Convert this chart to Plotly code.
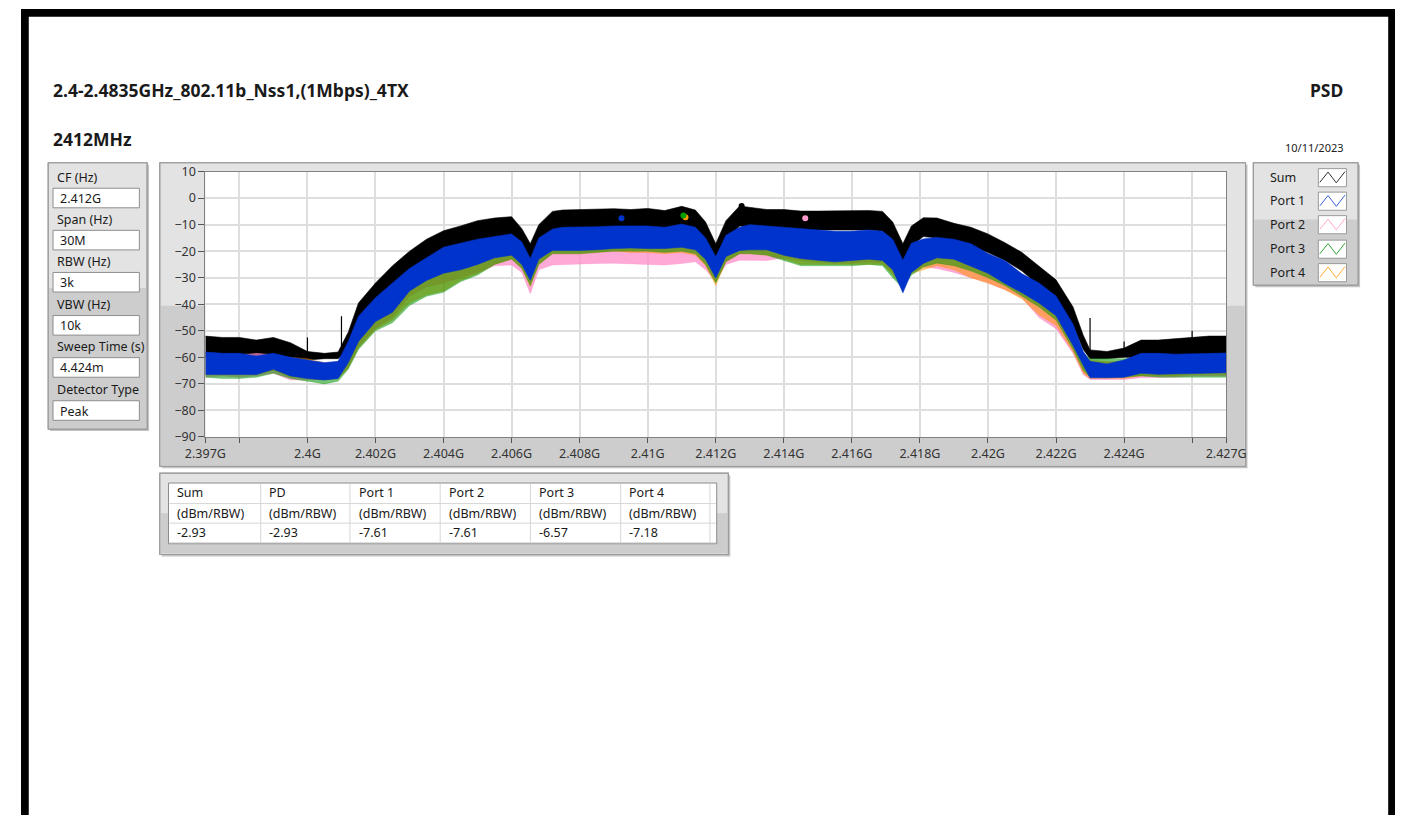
import plotly.graph_objects as go

W, H = 1416, 823

# ---------------- data ----------------
freq_mhz = [2397.0, 2397.5, 2398.0, 2398.5, 2399.0, 2399.5, 2400.0, 2400.5, 2400.9, 2401.2,
            2401.5, 2402.0, 2402.5, 2403.0, 2403.5, 2404.0, 2404.5, 2405.0, 2405.5, 2406.0,
            2406.3, 2406.55, 2406.8, 2407.2, 2407.5, 2408.0, 2408.5, 2409.0, 2409.5, 2410.0,
            2410.5, 2411.0, 2411.4, 2411.7, 2412.0, 2412.3, 2412.7, 2413.0, 2413.5, 2414.0,
            2414.5, 2415.0, 2415.5, 2416.0, 2416.5, 2416.9, 2417.2, 2417.5, 2417.75, 2418.1,
            2418.5, 2419.0, 2419.5, 2420.0, 2420.5, 2421.0, 2421.5, 2422.0, 2422.5, 2422.8,
            2423.0, 2423.5, 2424.0, 2424.5, 2425.0, 2425.5, 2426.0, 2426.5, 2427.0]

sum_max = [-52, -52.5, -52.5, -53.5, -52.5, -54.5, -57.8, -58.5, -58, -50.5,
           -39.5, -32, -25.5, -20, -15.5, -12.3, -10.5, -8.5, -7.5, -7,
           -11.5, -17.2, -10, -5, -4.5, -4.3, -4.2, -4, -4.3, -3.9,
           -4.7, -3.1, -4.5, -9, -17.2, -8.5, -3, -3.5, -4.3, -4.3,
           -4.9, -4.9, -4.9, -4.7, -4.7, -5, -9, -17.2, -10.5, -7.4,
           -7.5, -9.5, -11, -13.5, -16.8, -20.5, -25.5, -30.8, -41, -51.7,
           -57.2, -57.8, -56.5, -53.5, -53.5, -53, -52.5, -52, -52]
sum_min = [-60, -60, -60, -61, -60, -61, -61, -60.5, -60.5, -57,
           -46, -38, -33, -27, -23, -20, -18, -16, -15, -14,
           -19, -24, -17, -12, -12, -11.5, -11.5, -11, -11, -11,
           -11.5, -10.5, -11.5, -16, -24, -16, -10.5, -11, -11.5, -11.5,
           -12, -12, -12, -12, -12, -12.5, -16, -24, -18, -14.5,
           -15, -16.5, -18, -20.5, -23.5, -27.5, -33, -38, -48, -57,
           -60.5, -60.5, -60, -60, -60, -60, -59.5, -59.5, -59.5]

port1_max = [-58, -58.5, -58.5, -59.5, -58.5, -60, -61, -62, -61.5, -54,
             -44.5, -37.5, -32, -26.5, -22.5, -18.5, -17, -15.5, -14.5, -13.5,
             -16.5, -22.8, -15, -11.7, -11, -11, -10.8, -10.5, -10.5, -10.5,
             -11, -9.8, -11, -15, -22.1, -14, -11, -10, -10.5, -11,
             -11.5, -12, -12.5, -12.5, -12, -12.5, -15.5, -23.4, -17, -15.4,
             -14.8, -15.5, -17.2, -20.9, -23.6, -28.5, -32, -36.9, -47.5, -57.8,
             -61.5, -62.5, -61, -58.5, -58.5, -58.8, -58.6, -58.5, -58.4]
port1_min = [-66.5, -66.5, -66.5, -66.5, -64.5, -67, -68, -68.5, -68, -62,
             -54, -46.5, -43, -35, -31, -28.3, -27, -25, -22.5, -21.5,
             -25, -31, -23, -19.7, -19.7, -19.7, -19.5, -19, -18.8, -19,
             -19, -18.5, -19.5, -23, -30.1, -22, -19.7, -19.5, -19.5, -21.5,
             -22.8, -23.4, -24, -23.5, -23, -23.5, -27, -35.7, -28, -24.6,
             -22.5, -23, -25.8, -28.3, -32.2, -35.7, -39.5, -44.3, -55.5, -63,
             -67.7, -67.7, -67.5, -66, -66.4, -66.4, -66, -66, -65.8]

port2_max = [-59, -59.5, -59, -58.5, -59, -60.5, -61, -62, -62, -56,
             -46, -39, -33, -27.5, -24, -20, -18.5, -17, -16, -15,
             -18, -24, -16.5, -13, -12.5, -12.5, -12.5, -12, -12, -12,
             -12.5, -11.5, -12.5, -16.5, -23.5, -15.5, -12.5, -11.5, -12, -12.5,
             -13, -13.5, -14, -14, -13.5, -14, -17, -25, -18.5, -16,
             -16, -17, -18.5, -22, -25, -29.5, -33, -38, -48.5, -58.5,
             -61.5, -62, -61.5, -60, -60, -60, -60, -60, -60]
port2_min = [-67.5, -67, -67.5, -67, -66, -68.5, -68.5, -68.5, -68, -64,
             -56, -49, -45, -37, -33.5, -32, -30, -28, -25.5, -25.2,
             -28, -36, -27, -25.2, -25, -24.8, -24.6, -24.5, -24.8, -25,
             -25.2, -24.6, -24, -27, -31.4, -25, -23.4, -23.4, -23.5, -22.5,
             -23.5, -24, -24.5, -24.5, -24, -24.5, -28, -33, -28, -26,
             -26.5, -28, -30.1, -32, -34.5, -37.5, -45, -49.2, -58.5, -66.5,
             -68.3, -68.3, -68.3, -67.7, -67.7, -67.5, -67, -67, -67]

port3_max = [-59.5, -60, -60, -59.5, -59.5, -61, -62, -62.5, -62, -56.5,
             -46, -39.5, -33.5, -28, -25, -21, -19, -17.5, -16, -15,
             -18, -24, -16.5, -13, -12.5, -12.5, -12.5, -12, -12, -12,
             -12, -11, -12.5, -16.5, -23.5, -15.5, -12.5, -11.5, -12, -12.5,
             -13, -13.5, -14, -14, -13.5, -14, -17, -25, -18.5, -16,
             -16, -17, -18.5, -22, -25, -29.5, -33, -38, -48.5, -58.5,
             -60.5, -60.5, -60.5, -60, -60, -60, -60, -60, -60]
port3_min = [-67.5, -68, -68, -67.5, -66, -68, -69, -70, -69, -64.5,
             -57, -50, -47, -40.5, -37, -35.5, -31.5, -29, -25, -23,
             -26.5, -33, -25, -21, -21, -21, -20.5, -20, -20, -20,
             -20.5, -20, -21, -25, -32, -24, -21, -21, -21.5, -23.5,
             -25.5, -25.5, -25.5, -25.5, -25, -25.5, -30, -34, -29, -26,
             -24.5, -25.5, -27.5, -30, -33, -37, -41, -46, -57, -65,
             -67.5, -67.5, -67.5, -67, -67.5, -67.5, -67.5, -67.5, -67.5]

port4_max = [-58.5, -59, -59.5, -60, -60, -60, -60.5, -62, -62, -56,
             -45.5, -39, -33, -28, -24.5, -21, -19, -17, -16, -15,
             -18, -24, -16.5, -13, -12.5, -12.5, -12.5, -12, -12, -12,
             -12, -11.5, -12.5, -16.5, -23.5, -15.5, -12.5, -11.5, -12, -12.5,
             -13, -13.5, -14, -14, -13.5, -14, -17, -25, -18.5, -16,
             -16, -17, -18.5, -22, -25, -29.5, -33, -38, -48.5, -58.5,
             -61, -61.5, -61.5, -60, -60, -60, -60, -60, -60]
port4_min = [-66.5, -66.5, -66.5, -66.5, -65, -67.5, -68, -68.5, -68, -64,
             -56.5, -49.5, -46, -39.5, -36.5, -35, -31, -28.5, -25, -23,
             -26.5, -33.5, -25, -21, -21, -21, -20.5, -20, -20.5, -20.5,
             -21, -20.5, -21.5, -25.5, -33, -24, -21, -21, -21.5, -23,
             -25, -25, -25, -25, -25, -25, -29, -33.5, -28.5, -27,
             -25.5, -27, -30, -32, -34.5, -38, -44, -48, -58, -66,
             -68, -68, -68, -67, -67, -67, -66.5, -66.5, -66.5]

# isolated narrow spikes on the Sum trace (freq, base, tip)
sum_spike_freq = [2400.0, 2401.0, 2423.0, 2424.0, 2426.0]
sum_spike_base = [-58.0, -58.0, -57.5, -57.0, -53.0]
sum_spike_tip = [-52.5, -44.5, -45.2, -54.0, -50.0]

series_names = ["Sum", "Port 1", "Port 2", "Port 3", "Port 4"]
series_colors = ["#000000", "#0033cc", "#ff99cc", "#00a000", "#ff9900"]
band_fill = ["#000000", "#0033cc", "rgba(255,140,200,0.75)", "rgba(0,150,0,0.55)", "rgba(255,150,0,0.55)"]
legend_colors = ["#333333", "#3a5fd8", "#ffa6d2", "#33a833", "#ffaa33"]

peak_freq = [2412.76, 2409.23, 2414.63, 2411.05, 2411.11]
peak_value = [-2.93, -7.61, -7.61, -6.57, -7.18]

x_tick_vals = [2397, 2400, 2402, 2404, 2406, 2408, 2410, 2412, 2414, 2416, 2418, 2420, 2422, 2424, 2427]
x_tick_text = ["2.397G", "2.4G", "2.402G", "2.404G", "2.406G", "2.408G", "2.41G", "2.412G",
               "2.414G", "2.416G", "2.418G", "2.42G", "2.422G", "2.424G", "2.427G"]
y_tick_vals = [10, 0, -10, -20, -30, -40, -50, -60, -70, -80, -90]

param_labels = ["CF (Hz)", "Span (Hz)", "RBW (Hz)", "VBW (Hz)", "Sweep Time (s)", "Detector Type"]
param_values = ["2.412G", "30M", "3k", "10k", "4.424m", "Peak"]

table_headers = ["Sum", "PD", "Port 1", "Port 2", "Port 3", "Port 4"]
table_units = ["(dBm/RBW)"] * 6
table_values = [-2.93, -2.93, -7.61, -7.61, -6.57, -7.18]

title_text = "2.4-2.4835GHz_802.11b_Nss1,(1Mbps)_4TX"
subtitle_text = "2412MHz"
right_title = "PSD"
date_text = "10/11/2023"

# ---------------- helpers ----------------
FONT = "Noto Sans"


def px(x):
    return x / W


def py(y):
    return 1 - y / H


shapes = []
annotations = []


def rect(x0, y0, x1, y1, fill, line=None, lw=1):
    shapes.append(dict(type="rect", xref="paper", yref="paper",
                       x0=px(x0), x1=px(x1), y0=py(y1), y1=py(y0),
                       fillcolor=fill,
                       line=dict(color=line if line else "rgba(0,0,0,0)", width=lw if line else 0),
                       layer="below"))


def hline(x0, x1, y, color, lw=1):
    shapes.append(dict(type="line", xref="paper", yref="paper",
                       x0=px(x0), x1=px(x1), y0=py(y), y1=py(y),
                       line=dict(color=color, width=lw), layer="below"))


def vline(x, y0, y1, color, lw=1):
    shapes.append(dict(type="line", xref="paper", yref="paper",
                       x0=px(x), x1=px(x), y0=py(y0), y1=py(y1),
                       line=dict(color=color, width=lw), layer="below"))


def text(x, y, s, size=12.5, bold=False, anchor="left", color="#1a1a1a"):
    annotations.append(dict(xref="paper", yref="paper", x=px(x), y=py(y),
                            text=f"<b>{s}</b>" if bold else s, showarrow=False,
                            xanchor=anchor, yanchor="middle",
                            font=dict(family=FONT, size=size, color=color)))


def panel(x0, y0, x1, y1, split):
    rect(x0 + 2, y0 + 2, x1 + 2, y1 + 2, "#c4c4c4")
    rect(x0, y0, x1, y1, "#e3e3e3", "#9c9c9c", 1)
    rect(x0 + 1, split, x1 - 1, y1 - 1, "#cdcdcd")
    rect(x0, y0, x1, y1, "rgba(0,0,0,0)", "#9c9c9c", 1.2)


# ---------------- page ----------------
rect(0, 0, 8, H, "#000000")
rect(0, 0, W, 8, "#000000")
rect(1409, 0, W, H, "#000000")

text(31, 83, title_text, size=17.5, bold=True)
text(31, 133, subtitle_text, size=17.5, bold=True)
text(1364, 83, right_title, size=17.5, bold=True, anchor="right")
text(1365, 141, date_text, size=11, anchor="right", color="#222222")

# graph panel and plot area
panel(143, 157, 1262, 467, 303)
rect(190, 166, 1242, 437, "#ffffff")

# left parameter panel
panel(28, 157, 130, 429, 285)
label_y = [172, 215, 258, 302, 345, 389]
for i, (lab, val) in enumerate(zip(param_labels, param_values)):
    ly = label_y[i]
    text(35, ly, lab)
    rect(33, ly + 11, 122, ly + 31, "#ffffff", "#8e8e8e", 1)
    text(38, ly + 21.5, val)

# legend panel
panel(1270, 157, 1378, 282, 215)
leg_y = [172, 196, 220, 245, 269]
for i, name in enumerate(series_names):
    cy = leg_y[i]
    text(1285, cy, name)
    bx0, by0, bx1, by1 = 1337, cy - 9, 1366, cy + 9.5
    rect(bx0, by0, bx1, by1, "#ffffff", "#9a9a9a", 1)
    pts = [(bx0 + 1.5, by1 - 4.5), (bx0 + 10, by0 + 3.5), (bx0 + 18.5, by1 - 4), (bx1 - 1.5, by0 + 3)]
    path = "M " + " L ".join(f"{px(a):.5f},{py(b):.5f}" for a, b in pts)
    shapes.append(dict(type="path", xref="paper", yref="paper", path=path,
                       line=dict(color=legend_colors[i], width=1), layer="below"))

# table panel
panel(143, 474, 729, 557, 515)
rect(152, 484, 717, 546, "#ffffff", "#8a8a8a", 1)
for yy in [505, 525, 545]:
    hline(153, 716, yy, "#d6d6d6", 1)
col_x = [152, 247, 339, 432, 525, 618, 710]
for xx in col_x[1:]:
    vline(xx, 485, 545, "#d6d6d6", 1)
for j in range(6):
    tx = col_x[j] + 7
    text(tx, 494, table_headers[j])
    text(tx, 515, table_units[j])
    text(tx, 535, f"{table_values[j]:.2f}")

# ---------------- traces ----------------
fig = go.Figure()


def band(lo, hi, fill, edge):
    fig.add_trace(go.Scatter(x=freq_mhz + freq_mhz[::-1], y=hi + lo[::-1],
                             fill="toself", fillcolor=fill, mode="lines",
                             line=dict(color=edge, width=0.6),
                             hoverinfo="skip", showlegend=False))


band(sum_min, sum_max, band_fill[0], series_colors[0])

sx, sy = [], []
for f, b, t in zip(sum_spike_freq, sum_spike_base, sum_spike_tip):
    sx += [f, f, None]
    sy += [b, t, None]
fig.add_trace(go.Scatter(x=sx, y=sy, mode="lines", line=dict(color="#000000", width=1.2),
                         hoverinfo="skip", showlegend=False))

band(port2_min, port2_max, band_fill[2], "rgba(255,140,200,0.6)")
band(port4_min, port4_max, band_fill[4], "rgba(255,150,0,0.4)")
band(port3_min, port3_max, band_fill[3], "rgba(0,150,0,0.4)")
band(port1_min, port1_max, band_fill[1], series_colors[1])

for i in [1, 4, 3, 2, 0]:
    fig.add_trace(go.Scatter(x=[peak_freq[i]], y=[peak_value[i]], mode="markers",
                             marker=dict(color=series_colors[i], size=6),
                             name=series_names[i], showlegend=False))

fig.update_layout(
    autosize=True,
    margin=dict(l=0, r=0, t=0, b=0, pad=0),
    paper_bgcolor="#ffffff", plot_bgcolor="rgba(0,0,0,0)",
    shapes=shapes, annotations=annotations, showlegend=False,
    font=dict(family=FONT, size=12, color="#333333"),
    xaxis=dict(domain=[px(190), px(1242)], range=[2397, 2427],
               tickmode="array", tickvals=x_tick_vals, ticktext=x_tick_text,
               showgrid=False, zeroline=False, showline=True, linecolor="#808080", mirror=True,
               ticks="outside", ticklen=5, tickcolor="#555555",
               tickfont=dict(family=FONT, size=12.5, color="#333333"),
               minor=dict(tickmode="linear", tick0=2398, dtick=2, showgrid=True,
                          gridcolor="#dedede", gridwidth=1.5, ticks="outside",
                          ticklen=5, tickcolor="#555555")),
    yaxis=dict(domain=[py(437), py(166)], range=[-90, 10],
               tickmode="array", tickvals=y_tick_vals,
               showgrid=True, gridcolor="#dedede", gridwidth=1.5, zeroline=False,
               showline=True, linecolor="#808080", mirror=True,
               ticks="outside", ticklen=6, tickcolor="#555555",
               tickfont=dict(family=FONT, size=12.5, color="#333333")),
)

fig.write_html(
    "out.html",
    config={"displayModeBar": False, "responsive": True},
    default_width="100vw", default_height="100vh",
    post_script=("document.documentElement.style.margin='0';"
                 "document.body.style.margin='0';"
                 "document.body.style.overflow='hidden';"
                 "Plotly.Plots.resize(document.getElementById('{plot_id}'));"),
)
